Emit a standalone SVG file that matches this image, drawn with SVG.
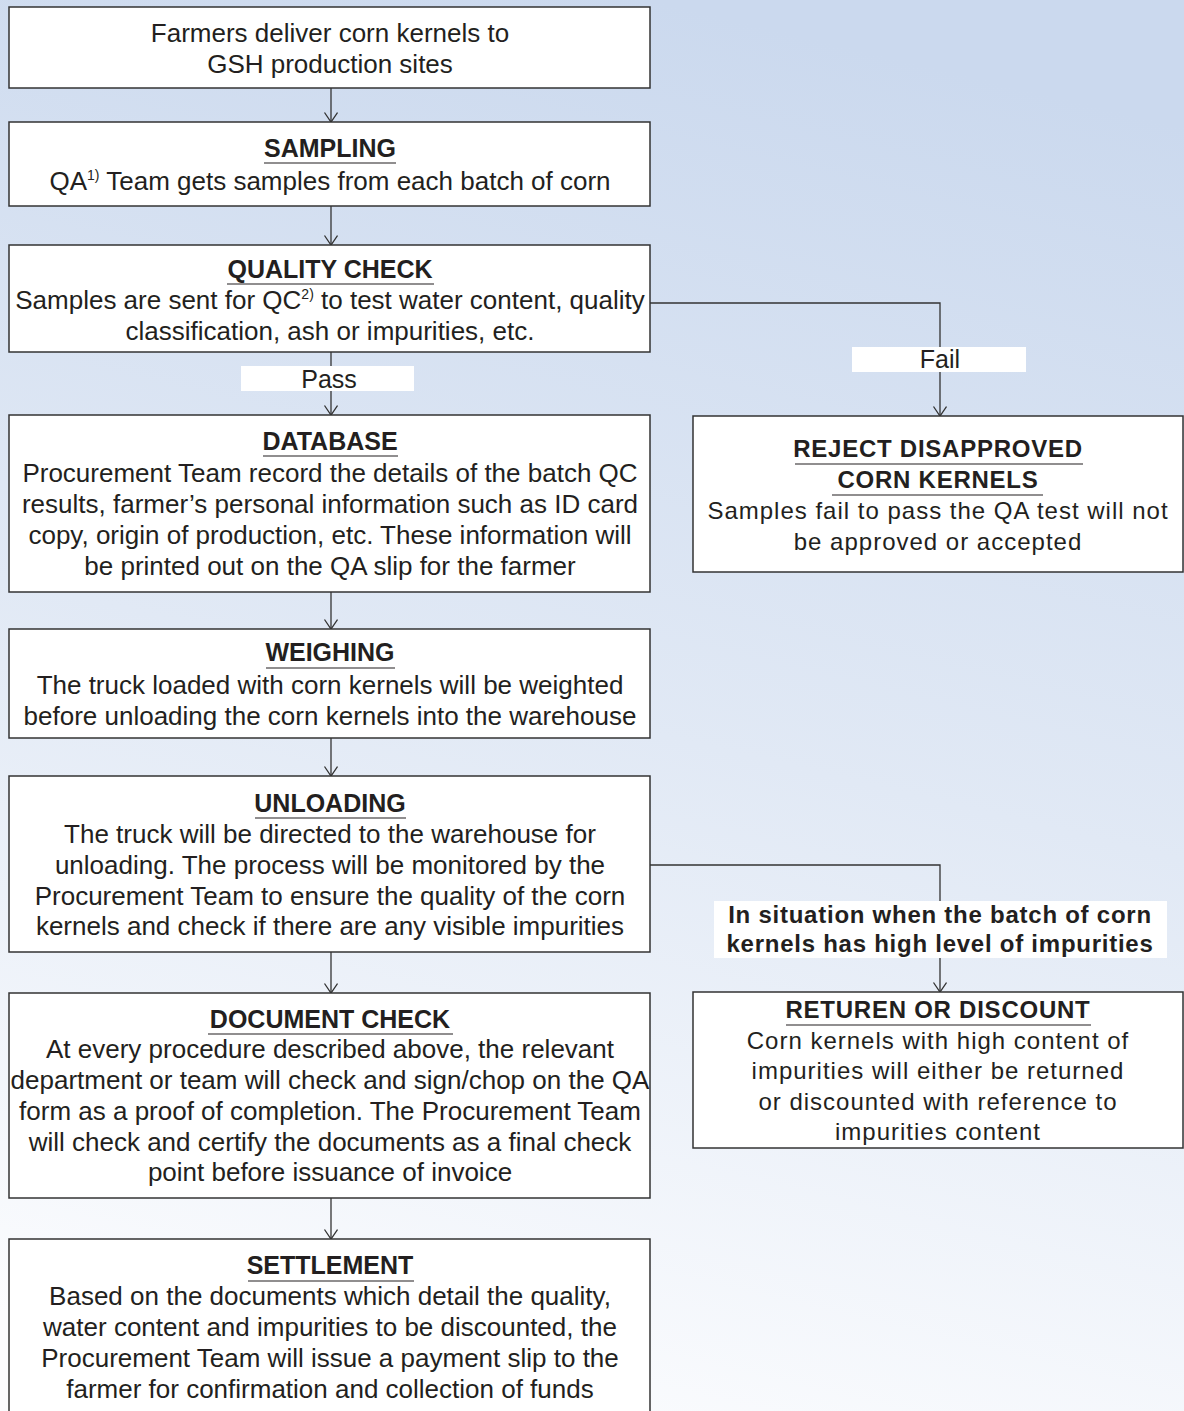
<svg xmlns="http://www.w3.org/2000/svg" width="1184" height="1411" viewBox="0 0 1184 1411">
<defs>
<linearGradient id="bg" x1="0.55" y1="0" x2="0.35" y2="1">
<stop offset="0" stop-color="#cbd9ee"/>
<stop offset="0.5" stop-color="#e1e9f5"/>
<stop offset="1" stop-color="#fbfcfe"/>
</linearGradient>
<marker id="arr" markerUnits="userSpaceOnUse" markerWidth="12" markerHeight="16" refX="10" refY="7" orient="auto">
<path d="M0.5,0.5 L10,7 L0.5,13.5" fill="none" stroke="#333" stroke-width="1.3"/>
</marker>
<style>
.box{fill:#fff;stroke:#333;stroke-width:1.5}
.lbl{fill:#fff}
.t{font-family:"Liberation Sans",Arial,sans-serif;font-size:26px;fill:#231f20;text-anchor:middle}
.h{font-family:"Liberation Sans",Arial,sans-serif;font-size:25px;font-weight:bold;fill:#231f20;text-anchor:middle}
.rt{font-family:"Liberation Sans",Arial,sans-serif;font-size:24px;letter-spacing:1px;fill:#231f20;text-anchor:middle}
.rh{font-family:"Liberation Sans",Arial,sans-serif;font-size:24px;font-weight:bold;letter-spacing:0.75px;fill:#231f20;text-anchor:middle}
.pf{font-family:"Liberation Sans",Arial,sans-serif;font-size:25px;fill:#231f20;text-anchor:middle}
.ul{stroke:#231f20;stroke-width:1.2}
.c{fill:none;stroke:#333;stroke-width:1.3;marker-end:url(#arr)}
.sup{font-size:14px}
</style>
</defs>
<rect x="0" y="0" width="1184" height="1411" fill="url(#bg)"/>

<g id="connectors">
<path class="c" d="M331,88 V122"/>
<path class="c" d="M331,206 V245"/>
<path class="c" d="M331,352 V415"/>
<path class="c" d="M331,592 V629"/>
<path class="c" d="M331,738 V776"/>
<path class="c" d="M331,952 V993"/>
<path class="c" d="M331,1198 V1239"/>
<path class="c" d="M650,303 H940 V416"/>
<path class="c" d="M650,865 H940 V992"/>
<g id="label-pass"><rect class="lbl" x="241" y="366" width="173" height="25"/><text class="pf" x="329" y="388">Pass</text></g>
<g id="label-fail"><rect class="lbl" x="852" y="347" width="174" height="25"/><text class="pf" x="940" y="368">Fail</text></g>
<g id="label-impurities"><rect class="lbl" x="714" y="901" width="453" height="57"/>
<text class="rh" x="940" y="923">In situation when the batch of corn</text>
<text class="rh" x="940" y="952">kernels has high level of impurities</text></g>
</g>

<g id="node-deliver">
<rect class="box" x="9" y="7" width="641" height="81"/>
<text class="t" x="330" y="42">Farmers deliver corn kernels to</text>
<text class="t" x="330" y="73">GSH production sites</text>
</g>

<g id="node-sampling">
<rect class="box" x="9" y="122" width="641" height="84"/>
<text class="h" x="330" y="157">SAMPLING</text>
<line class="ul" x1="264" y1="163" x2="396" y2="163"/>
<text class="t" x="330" y="190">QA<tspan class="sup" dy="-10">1)</tspan><tspan dy="10"> Team gets samples from each batch of corn</tspan></text>
</g>

<g id="node-quality">
<rect class="box" x="9" y="245" width="641" height="107"/>
<text class="h" x="330" y="278">QUALITY CHECK</text>
<line class="ul" x1="227" y1="284" x2="434" y2="284"/>
<text class="t" x="330" y="309">Samples are sent for QC<tspan class="sup" dy="-10">2)</tspan><tspan dy="10"> to test water content, quality</tspan></text>
<text class="t" x="330" y="340">classification, ash or impurities, etc.</text>
</g>

<g id="node-database">
<rect class="box" x="9" y="415" width="641" height="177"/>
<text class="h" x="330" y="450">DATABASE</text>
<line class="ul" x1="263" y1="456" x2="398" y2="456"/>
<text class="t" x="330" y="482">Procurement Team record the details of the batch QC</text>
<text class="t" x="330" y="513">results, farmer’s personal information such as ID card</text>
<text class="t" x="330" y="544">copy, origin of production, etc. These information will</text>
<text class="t" x="330" y="575">be printed out on the QA slip for the farmer</text>
</g>

<g id="node-weighing">
<rect class="box" x="9" y="629" width="641" height="109"/>
<text class="h" x="330" y="661">WEIGHING</text>
<line class="ul" x1="266" y1="668" x2="395" y2="668"/>
<text class="t" x="330" y="694">The truck loaded with corn kernels will be weighted</text>
<text class="t" x="330" y="725">before unloading the corn kernels into the warehouse</text>
</g>

<g id="node-unloading">
<rect class="box" x="9" y="776" width="641" height="176"/>
<text class="h" x="330" y="812">UNLOADING</text>
<line class="ul" x1="255" y1="818" x2="406" y2="818"/>
<text class="t" x="330" y="843">The truck will be directed to the warehouse for</text>
<text class="t" x="330" y="874">unloading. The process will be monitored by the</text>
<text class="t" x="330" y="905">Procurement Team to ensure the quality of the corn</text>
<text class="t" x="330" y="935">kernels and check if there are any visible impurities</text>
</g>

<g id="node-document">
<rect class="box" x="9" y="993" width="641" height="205"/>
<text class="h" x="330" y="1028">DOCUMENT CHECK</text>
<line class="ul" x1="208" y1="1034" x2="453" y2="1034"/>
<text class="t" x="330" y="1058">At every procedure described above, the relevant</text>
<text class="t" x="330" y="1089">department or team will check and sign/chop on the QA</text>
<text class="t" x="330" y="1120">form as a proof of completion. The Procurement Team</text>
<text class="t" x="330" y="1151">will check and certify the documents as a final check</text>
<text class="t" x="330" y="1181">point before issuance of invoice</text>
</g>

<g id="node-settlement">
<rect class="box" x="9" y="1239" width="641" height="190"/>
<text class="h" x="330" y="1274">SETTLEMENT</text>
<line class="ul" x1="248" y1="1281" x2="414" y2="1281"/>
<text class="t" x="330" y="1305">Based on the documents which detail the quality,</text>
<text class="t" x="330" y="1336">water content and impurities to be discounted, the</text>
<text class="t" x="330" y="1367">Procurement Team will issue a payment slip to the</text>
<text class="t" x="330" y="1398">farmer for confirmation and collection of funds</text>
</g>

<g id="node-reject">
<rect class="box" x="693" y="416" width="490" height="156"/>
<text class="rh" x="938" y="457">REJECT DISAPPROVED</text>
<line class="ul" x1="795" y1="464" x2="1083" y2="464"/>
<text class="rh" x="938" y="488">CORN KERNELS</text>
<line class="ul" x1="832" y1="495" x2="1043" y2="495"/>
<text class="rt" x="938" y="519">Samples fail to pass the QA test will not</text>
<text class="rt" x="938" y="550">be approved or accepted</text>
</g>

<g id="node-return">
<rect class="box" x="693" y="992" width="490" height="156"/>
<text class="rh" x="938" y="1018">RETUREN OR DISCOUNT</text>
<line class="ul" x1="786" y1="1025" x2="1091" y2="1025"/>
<text class="rt" x="938" y="1049">Corn kernels with high content of</text>
<text class="rt" x="938" y="1079">impurities will either be returned</text>
<text class="rt" x="938" y="1110">or discounted with reference to</text>
<text class="rt" x="938" y="1140">impurities content</text>
</g>
</svg>
